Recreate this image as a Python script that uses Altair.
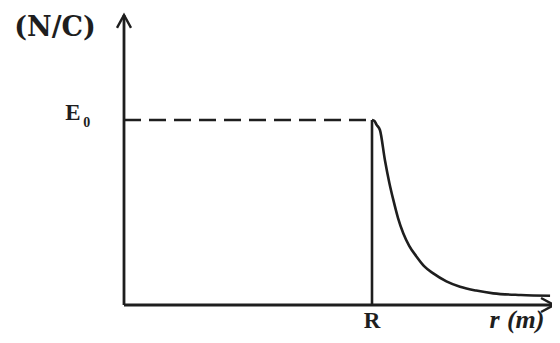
import altair as alt
import pandas as pd

# ---- data (r in units of R, E in units of E0) ----
R_val = 1.0
E0_val = 1.0
curve_r = [1.010, 1.018, 1.032, 1.052, 1.070, 1.086, 1.105, 1.126, 1.150, 1.180,
           1.210, 1.247, 1.300, 1.355, 1.420, 1.489, 1.600, 1.718]
curve_E = [0.995, 0.975, 0.946, 0.784, 0.660, 0.568, 0.470, 0.388, 0.320, 0.261,
           0.210, 0.171, 0.128, 0.099, 0.078, 0.063, 0.054, 0.050]
axis_x_end = 1.734
axis_y_end = 1.568

label_text = ["(N/C)", "E", "0", "R", "r", "(m)"]
label_r = [-0.278, -0.206, -0.150, 1.0, 1.494, 1.544]
label_E = [1.455, 1.0, 0.962, -0.122, -0.122, -0.122]

ink = "#1e1e1e"
W, H = 544, 327
px_r, px_E = 248.0, 185.0
x_dom = [-116 / px_r, (W - 116) / px_r]
y_dom = [-(H - 297) / px_E, 297 / px_E]
xs = alt.Scale(domain=x_dom, nice=False, zero=False)
ys = alt.Scale(domain=y_dom, nice=False, zero=False)

def X(f="r"):
    return alt.X(f"{f}:Q", scale=xs, axis=None)

def Y(f="E"):
    return alt.Y(f"{f}:Q", scale=ys, axis=None)

axes_df = pd.DataFrame({"r": [0, 0], "E": [0, 0], "r2": [axis_x_end, 0], "E2": [0, axis_y_end]})
axes = alt.Chart(axes_df).mark_rule(color=ink, strokeWidth=2.8).encode(
    x=X(), y=Y(), x2="r2:Q", y2="E2:Q")

arrows_df = pd.DataFrame({"r": [axis_x_end, 0], "E": [0, axis_y_end], "dir": ["x", "y"]})
arrow_x = alt.Chart(arrows_df[arrows_df.dir == "x"]).mark_point(
    shape="M-1.3,-0.7L0,0L-1.3,0.7", filled=False, color=ink, strokeWidth=2.4,
    size=400, opacity=1).encode(x=X(), y=Y())
arrow_y = alt.Chart(arrows_df[arrows_df.dir == "y"]).mark_point(
    shape="M-0.7,1.3L0,0L0.7,1.3", filled=False, color=ink, strokeWidth=2.4,
    size=400, opacity=1).encode(x=X(), y=Y())

dash_df = pd.DataFrame({"r": [0, R_val], "E": [E0_val, E0_val]})
dash = alt.Chart(dash_df).mark_line(color=ink, strokeWidth=2.6, strokeDash=[17, 8]).encode(
    x=X(), y=Y())

vline_df = pd.DataFrame({"r": [R_val], "E": [0], "E2": [E0_val]})
vline = alt.Chart(vline_df).mark_rule(color=ink, strokeWidth=2.6).encode(
    x=X(), y=Y(), y2="E2:Q")

curve_df = pd.DataFrame({"r": [R_val] + curve_r, "E": [E0_val] + curve_E})
curve = alt.Chart(curve_df).mark_line(color=ink, strokeWidth=2.6, interpolate="monotone").encode(
    x=X(), y=Y())

lab = pd.DataFrame({"r": label_r, "E": label_E, "t": label_text})
serif = "Liberation Serif"

def txt(i, font, size, align="center", baseline="alphabetic", style="normal"):
    return alt.Chart(lab.iloc[[i]]).mark_text(
        font=font, fontWeight="bold", fontSize=size, fontStyle=style,
        color=ink, align=align, baseline=baseline).encode(x=X(), y=Y(), text="t:N")

t_unit = txt(0, "DejaVu Serif", 27)
t_E = txt(1, serif, 23)
t_0 = txt(2, serif, 14)
t_R = txt(3, serif, 23)
t_r = txt(4, serif, 26, style="italic")
t_m = txt(5, serif, 26, align="left", style="italic")

chart = alt.layer(axes, arrow_x, arrow_y, dash, vline, curve, t_unit, t_E, t_0, t_R, t_r, t_m).properties(
    width=W, height=H, padding=0, autosize=alt.AutoSizeParams(type="none"),
    background="white"
).configure_view(stroke=None)

chart.save("out.html", embed_options={"renderer": "svg", "actions": False})
